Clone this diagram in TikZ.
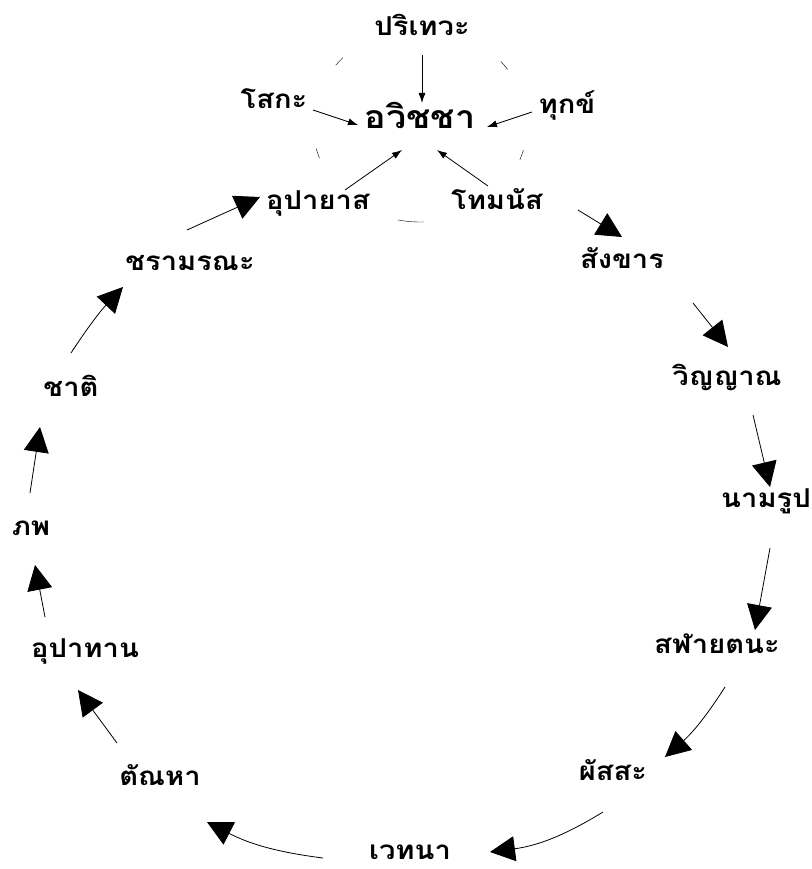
\documentclass[tikz,border=0pt]{standalone}
\usepackage{fontspec}
\newfontfamily\thaifont[Script=Thai,FakeStretch=1.12]{Loma}
\usetikzlibrary{arrows.meta,positioning,calc,backgrounds}

\begin{document}
\begin{tikzpicture}[
  x=1pt, y=-1pt,
  font=\thaifont\bfseries\fontsize{26}{30}\selectfont,
  term/.style={inner sep=2pt, text height=1em, text depth=0.2em},
  root/.style={term, font=\thaifont\bfseries\fontsize{32}{38}\selectfont},
  feed/.style={-{Latex[length=10pt,width=7pt]}, thick},
  cyc/.style={-{Triangle[length=25pt,width=25pt]}, thick}
]
\useasboundingbox (0,0) rectangle (811,869);
% the root and its five companions
\node[root] (awitcha) at (420,125) {อวิชชา};
\node[term] (pariteva) at (422,32) {ปริเทวะ};
\node[term] (soka) at (274,105) {โสกะ};
\node[term] (thuk) at (567,110) {ทุกข์};
\node[term] (upayat) at (318,205) {อุปายาส};
\node[term] (thomanat) at (497,205) {โทมนัส};
% the wheel
\node[term] (sangkhan) at (622,264) {สังขาร};
\node[term] (winyan) at (727,381) {วิญญาณ};
\node[term] (namarup) at (766,503) {นามรูป};
\node[term] (salayatana) at (717,649) {สฬายตนะ};
\node[term] (phassa) at (613,776) {ผัสสะ};
\node[term] (wethana) at (410,855) {เวทนา};
\node[term] (tanha) at (160,781) {ตัณหา};
\node[term] (upathan) at (85,653) {อุปาทาน};
\node[term] (phop) at (31,531) {ภพ};
\node[term] (chat) at (71,392) {ชาติ};
\node[term] (charamarana) at (190,266) {ชรามรณะ};
% what is left of the dashed ring
\foreach \t/\w in {-139/3, -38/3, 163/3, 18/3, 95/7}
  \draw ($(awitcha)+(\t-\w:107 and 97)$) arc[start angle=\t-\w, end angle=\t+\w, x radius=107, y radius=97];
\draw[feed] ($(pariteva)+(0,23)$) -- ($(awitcha)+(2,-22)$);
\draw[feed] ($(soka)+(39,5)$) -- ($(awitcha)+(-62,0)$);
\draw[feed] ($(thuk)+(-35,2)$) -- ($(awitcha)+(67,2)$);
\draw[feed] ($(upayat)+(27,-15)$) -- ($(awitcha)+(-18,25)$);
\draw[feed] ($(thomanat)+(-9,-19)$) -- ($(awitcha)+(17,25)$);
\draw[cyc] ($(thomanat)+(81,5)$) -- ($(sangkhan)+(0,-27)$);
\draw[cyc] ($(sangkhan)+(71,39)$) -- ($(winyan)+(1,-34)$);
\draw[cyc] ($(winyan)+(26,34)$) -- ($(namarup)+(4,-16)$);
\draw[cyc] ($(namarup)+(4,45)$) -- ($(salayatana)+(38,-19)$);
\draw[cyc] ($(salayatana)+(8,38)$) to[bend left=8] ($(phassa)+(52,-19)$);
\draw[cyc] ($(phassa)+(-10,36)$) to[bend left=12] ($(wethana)+(80,-3)$);
\draw[cyc] ($(wethana)+(-87,3)$) to[bend left=10] ($(tanha)+(47,41)$);
\draw[cyc] ($(tanha)+(-43,-38)$) -- ($(upathan)+(-7,37)$);
\draw[cyc] ($(upathan)+(-40,-36)$) -- ($(phop)+(4,34)$);
\draw[cyc] ($(phop)+(-1,-38)$) -- ($(chat)+(-31,35)$);
\draw[cyc] ($(chat)+(0,-39)$) to[bend left=5] ($(charamarana)+(-67,21)$);
\draw[cyc] ($(charamarana)+(-3,-36)$) -- ($(upayat)+(-58,-8)$);
\end{tikzpicture}
\end{document}
